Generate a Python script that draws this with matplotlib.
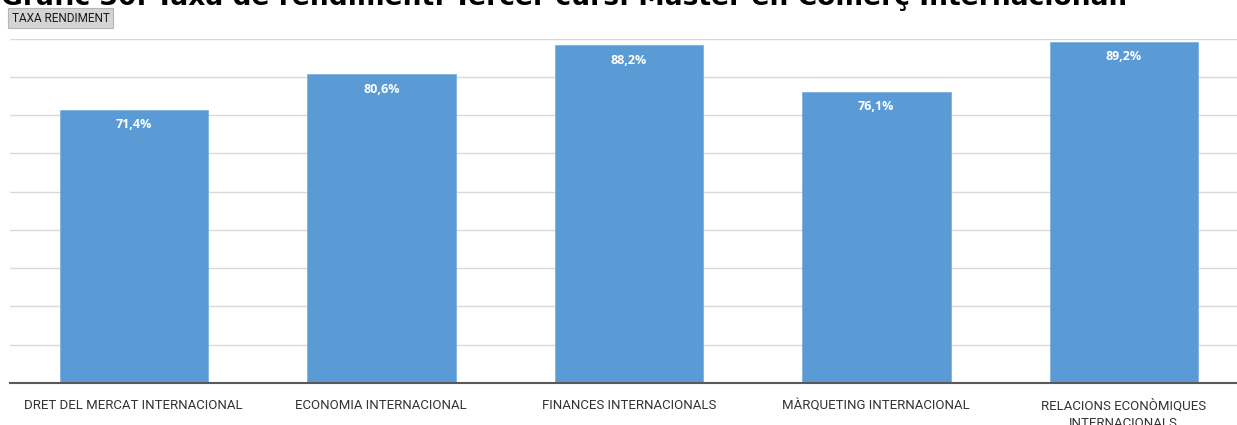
import numpy as np
import matplotlib
matplotlib.use('Agg')
from matplotlib import pyplot as plt

categories = ['DRET DEL MERCAT INTERNACIONAL', 'ECONOMIA INTERNACIONAL', 'FINANCES INTERNACIONALS',
              'MÀRQUETING INTERNACIONAL', 'RELACIONS ECONÒMIQUES\nINTERNACIONALS']
values = [71.4, 80.6, 88.2, 76.1, 89.2]
title = 'Gràfic 30. Taxa de rendiment. Tercer curs. Màster en Comerç Internacional.'

plt.rcParams['font.family'] = ['Roboto', 'DejaVu Sans']

fig = plt.figure(figsize=(12.37, 4.25), dpi=100)
W, H = 1237, 425
# axes placed in pixel terms: left ~10, right ~1247, top at 90% line ~39, baseline ~383
ax = fig.add_axes([10 / W, 1 - 383 / H, 1237.5 / W, (383 - 38.5) / H])

x = np.arange(len(categories))
bars = ax.bar(x, values, width=0.6, color='#5B9BD5', edgecolor='#7fb0df', linewidth=0.6, zorder=2)
ax.set_xlim(-0.5, len(categories) - 0.5)
ax.set_ylim(0, 90)
ax.set_yticks(np.arange(10, 91, 10))
ax.yaxis.grid(True, color='#d9d9d9', linewidth=1.0, zorder=0)
ax.set_axisbelow(True)
ax.tick_params(axis='y', left=False, labelleft=False)
ax.tick_params(axis='x', bottom=False, pad=8)
ax.set_xticks(x)
ax.set_xticklabels(categories, fontsize=9.5, color='#333333', va='top', linespacing=1.5)
for s in ['top', 'right', 'left']:
    ax.spines[s].set_visible(False)
ax.spines['bottom'].set_color('#595959')
ax.spines['bottom'].set_linewidth(1.5)

for b, v in zip(bars, values):
    ax.annotate(f'{v:.1f}%'.replace('.', ','), (b.get_x() + b.get_width() / 2, v),
                xytext=(0, -6), textcoords='offset points', ha='center', va='top',
                color='white', fontsize=9, fontweight='bold', family=['Open Sans', 'DejaVu Sans'])

# title partially cut off at top
fig.text(1 / W, 1 - 5 / H, title, fontsize=19.1, fontweight='bold', family='DejaVu Sans',
         color='black', ha='left', va='baseline')

# field button
fig.text(12 / W, 1 - 18 / H, 'TAXA RENDIMENT', fontsize=8.5, color='#1a1a1a', va='center', ha='left',
         bbox=dict(boxstyle='square,pad=0.3', facecolor='#d4d4d4', edgecolor='#b5b5b5', linewidth=0.8))

fig.savefig('out.png', dpi=100)
